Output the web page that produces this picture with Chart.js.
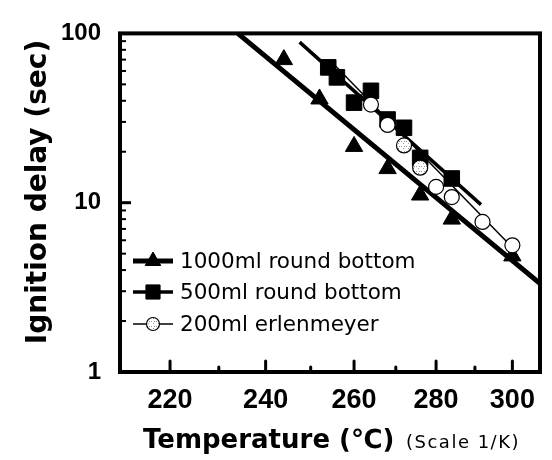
<!DOCTYPE html>
<html>
<head>
<meta charset="utf-8">
<script src="https://cdn.jsdelivr.net/npm/chart.js@4.4.0/dist/chart.umd.min.js"></script>
<style>
  html, body { margin: 0; padding: 0; background: #fff; }
  #wrap { width: 552px; height: 460px; position: relative; }
</style>
</head>
<body>
<div id="wrap"><canvas id="chart"></canvas></div>
<script>
// Values: temperature in deg C, ignition delay in sec
const triTemps = [244, 252, 260, 268, 276, 284, 300];
const triDelays = [70, 41, 21.5, 15.9, 11.1, 8.0, 4.85];
const sqTemps = [254, 256, 264, 260, 268, 272, 276, 284];
const sqDelays = [63, 55, 45.8, 39, 31, 27.7, 18.4, 13.9];
const circTemps = [264, 268, 272, 276, 280, 284, 292, 300];
const circDelays = [38, 28.8, 21.8, 16.1, 12.4, 10.8, 7.7, 5.6];

// fitted lines, end points
const fit1000Temps = [234, 309];
const fit1000Delays = [100, 3.15];
const fit500Temps = [247.5, 291.6];
const fit500Delays = [88.8, 9.74];
const fit200Temps = [254.5, 301];
const fit200Delays = [69, 5.16];

// axes
const xTickTemps = [220, 240, 260, 280, 300];
const xMinorTemps = [230, 250, 270, 290];
const yTicks = [1, 10, 100];
const yMinor = [2, 3, 4, 5, 6, 7, 8, 9, 20, 30, 40, 50, 60, 70, 80, 90];
const legendLabels = ['1000ml round bottom', '500ml round bottom', '200ml erlenmeyer'];

// x axis is on a 1/K scale
const inv = t => 1000 / (t + 273.15);
const toPoints = (temps, vals) => temps.map((t, i) => ({ x: inv(t), y: vals[i] }));

// speckled fill for some of the erlenmeyer circles
function speckle() {
    const c = document.createElement('canvas');
    c.width = 5; c.height = 5;
    const g = c.getContext('2d');
    g.fillStyle = '#fff';
    g.fillRect(0, 0, 5, 5);
    g.fillStyle = '#999';
    g.fillRect(1, 1, 1, 1);
    g.fillRect(3, 3, 1, 1);
    g.fillRect(4, 1, 1, 1);
    return g.createPattern(c, 'repeat');
}
const dots = speckle();
const circFill = ['#fff', '#fff', dots, dots, '#fff', '#fff', '#fff', '#fff'];

const markers = [
    { pointStyle: 'triangle', radius: 10, borderWidth: 1, fill: '#000', line: 5 },
    { pointStyle: 'rect', radius: 11, borderWidth: 1, fill: '#000', line: 3.5 },
    { pointStyle: 'circle', radius: 7.5, borderWidth: 1.2, fill: dots, line: 1.5 }
];

const framePlugin = {
    id: 'frame',
    afterDraw(chart) {
        const ctx = chart.ctx;
        const a = chart.chartArea;
        const xs = chart.scales.x, ys = chart.scales.y;
        ctx.save();
        ctx.strokeStyle = '#000';
        ctx.fillStyle = '#000';

        // inward ticks
        ctx.lineCap = 'round';
        xTickTemps.forEach(t => {
            const px = xs.getPixelForValue(inv(t));
            ctx.lineWidth = 3;
            ctx.beginPath(); ctx.moveTo(px, a.bottom); ctx.lineTo(px, a.bottom - 11); ctx.stroke();
        });
        xMinorTemps.forEach(t => {
            const px = xs.getPixelForValue(inv(t));
            ctx.lineWidth = 3;
            ctx.beginPath(); ctx.moveTo(px, a.bottom); ctx.lineTo(px, a.bottom - 5); ctx.stroke();
        });
        ctx.lineCap = 'butt';
        yMinor.forEach(v => {
            const py = ys.getPixelForValue(v);
            ctx.lineWidth = 2;
            ctx.beginPath(); ctx.moveTo(a.left, py); ctx.lineTo(a.left + 6, py); ctx.stroke();
        });
        ctx.lineWidth = 3;
        const p10 = ys.getPixelForValue(10);
        ctx.beginPath(); ctx.moveTo(a.left, p10); ctx.lineTo(a.left + 11, p10); ctx.stroke();

        // frame
        ctx.lineWidth = 4;
        ctx.strokeRect(a.left, a.top, a.right - a.left, a.bottom - a.top);

        // legend
        const rows = [261, 292, 324];
        legendLabels.forEach((label, i) => {
            const m = markers[i];
            ctx.lineWidth = m.line;
            ctx.beginPath(); ctx.moveTo(133, rows[i]); ctx.lineTo(173, rows[i]); ctx.stroke();
            ctx.fillStyle = m.fill;
            ctx.lineWidth = m.borderWidth;
            Chart.helpers.drawPoint(ctx, { pointStyle: m.pointStyle, radius: m.radius - 1, borderWidth: m.borderWidth, rotation: 0 }, 153, rows[i]);
            ctx.fillStyle = '#000';
            ctx.font = '21.5px "DejaVu Sans"';
            ctx.textAlign = 'left';
            ctx.textBaseline = 'middle';
            ctx.fillText(label, 180, rows[i] + 1);
        });

        // axis titles
        ctx.font = 'bold 28px "DejaVu Sans"';
        ctx.textAlign = 'center';
        ctx.textBaseline = 'middle';
        ctx.save();
        ctx.translate(39, 192);
        ctx.rotate(-Math.PI / 2);
        ctx.fillText('Ignition delay (sec)', 0, 0);
        ctx.restore();

        ctx.textAlign = 'left';
        ctx.font = 'bold 26px "DejaVu Sans"';
        ctx.fillText('Temperature (\u2103)', 143, 441);
        ctx.font = '18px "DejaVu Sans"';
        ctx.letterSpacing = '1.5px';
        ctx.fillText('(Scale 1/K)', 406, 443);
        ctx.letterSpacing = '0px';
        ctx.restore();
    }
};

new Chart(document.getElementById('chart'), {
    type: 'scatter',
    data: {
        datasets: [
            {
                label: legendLabels[2], data: toPoints(circTemps, circDelays), order: 0,
                pointStyle: 'circle', pointRadius: 7.5, pointBackgroundColor: circFill,
                pointBorderColor: '#000', pointBorderWidth: 1.2
            },
            {
                label: legendLabels[1], data: toPoints(sqTemps, sqDelays), order: 1,
                pointStyle: 'rect', pointRadius: 11, pointBackgroundColor: '#000',
                pointBorderColor: '#000', pointBorderWidth: 1
            },
            {
                label: legendLabels[0], data: toPoints(triTemps, triDelays), order: 2,
                pointStyle: 'triangle', pointRadius: 10, pointBackgroundColor: '#000',
                pointBorderColor: '#000', pointBorderWidth: 1
            },
            {
                label: 'fit 200ml', data: toPoints(fit200Temps, fit200Delays), order: 3,
                showLine: true, pointRadius: 0, borderColor: '#000', borderWidth: 1.5
            },
            {
                label: 'fit 500ml', data: toPoints(fit500Temps, fit500Delays), order: 4,
                showLine: true, pointRadius: 0, borderColor: '#000', borderWidth: 3.5
            },
            {
                label: 'fit 1000ml', data: toPoints(fit1000Temps, fit1000Delays), order: 5,
                showLine: true, pointRadius: 0, borderColor: '#000', borderWidth: 5
            }
        ]
    },
    options: {
        responsive: true,
        maintainAspectRatio: false,
        animation: false,
        layout: { padding: { top: 24, right: 10, left: 0, bottom: 0 } },
        plugins: { legend: { display: false }, tooltip: { enabled: false } },
        scales: {
            x: {
                type: 'linear',
                reverse: true,
                min: 1.72191,
                max: 2.06916,
                grid: { display: false, drawTicks: false },
                border: { display: false },
                afterBuildTicks: s => { s.ticks = xTickTemps.map(t => ({ value: inv(t) })); },
                afterFit: s => { s.height = 88; },
                ticks: {
                    padding: 12,
                    color: '#000',
                    font: { family: '"Liberation Sans", Arial', size: 27, weight: 'bold' },
                    callback: v => Math.round(1000 / v - 273.15)
                }
            },
            y: {
                type: 'logarithmic',
                min: 1,
                max: 100,
                grid: { display: false, drawTicks: false },
                border: { display: false },
                afterBuildTicks: s => { s.ticks = yTicks.map(v => ({ value: v })); },
                afterFit: s => { s.width = 120; },
                ticks: {
                    padding: 19,
                    color: '#000',
                    font: { family: '"Liberation Sans", Arial', size: 24, weight: 'bold' },
                    callback: v => String(v)
                }
            }
        }
    },
    plugins: [framePlugin]
});
</script>
</body>
</html>
